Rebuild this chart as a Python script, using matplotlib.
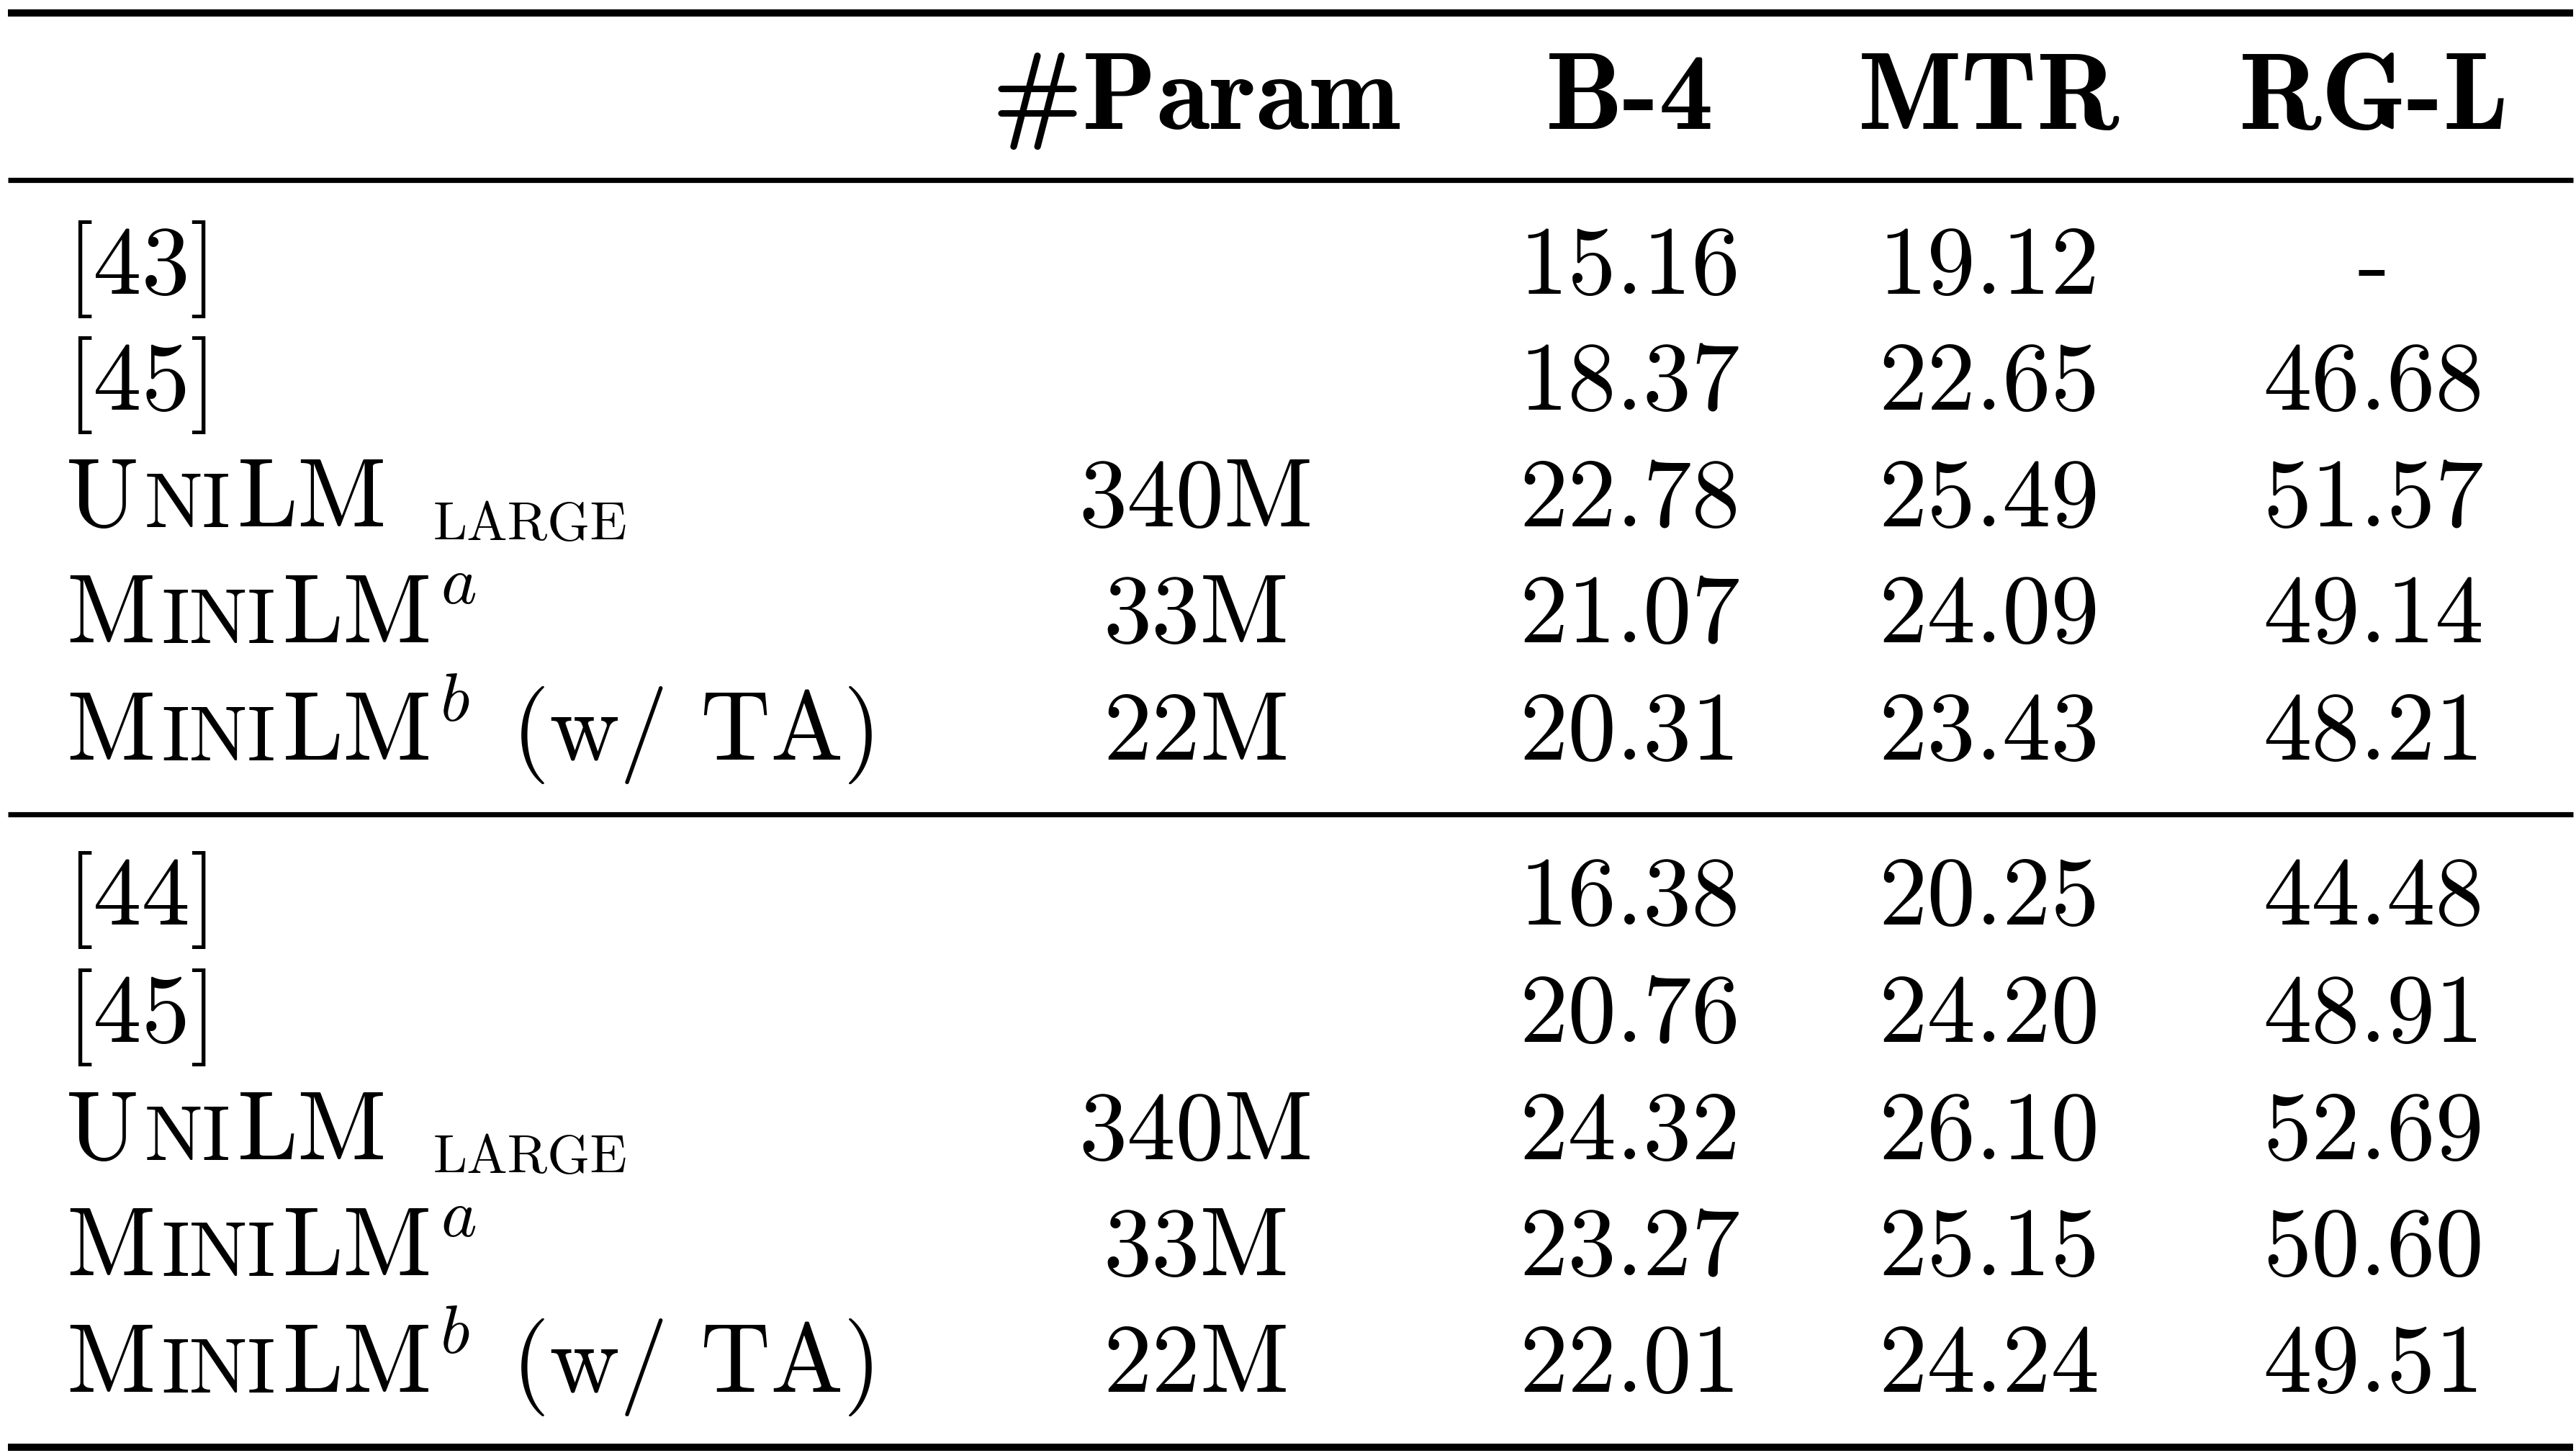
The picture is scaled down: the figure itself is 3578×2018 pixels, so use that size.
import matplotlib
matplotlib.use('Agg')
import matplotlib.pyplot as plt

# table content
header = ['#Param', 'B-4', 'MTR', 'RG-L']
params = ['', '', '340M', '33M', '22M', '', '', '340M', '33M', '22M']
b4 = [15.16, 18.37, 22.78, 21.07, 20.31, 16.38, 20.76, 24.32, 23.27, 22.01]
mtr = [19.12, 22.65, 25.49, 24.09, 23.43, 20.25, 24.20, 26.10, 25.15, 24.24]
rgl = [None, 46.68, 51.57, 49.14, 48.21, 44.48, 48.91, 52.69, 50.60, 49.51]
models = ['[43]', '[45]', 'unilm_large', 'minilm_a', 'minilm_b_ta',
          '[44]', '[45]', 'unilm_large', 'minilm_a', 'minilm_b_ta']

W, H = 3578, 2018
FS = 97
FS_HEAD = 109
RM = 'cmr10'
BF = 'cmb10'
MI = 'cmmi10'

col_x = [1661, 2264, 2763, 3297]
label_x = 92
head_y = 179
row_y = [408, 569, 731, 892, 1055, 1284, 1447, 1610, 1771, 1933]

fig = plt.figure(figsize=(W / 100, H / 100), dpi=100)
ax = fig.add_axes([0, 0, 1, 1])
ax.set_xlim(0, W)
ax.set_ylim(H, 0)
ax.axis('off')
renderer = fig.canvas.get_renderer()

# rules
ax.hlines([18, 2010], 11, 3574, color='black', lw=7.2)
ax.hlines([250, 1131], 11, 3574, color='black', lw=5.2)

for txt, x in zip(header, col_x):
    ax.text(x, head_y, txt, family=BF, size=FS_HEAD, ha='center', va='baseline')


def pieces_for(name):
    sc = 0.8
    if name == 'unilm_large':
        return [('U', RM, 1, 0, 0), ('NI', RM, sc, 0, 8), ('LM', RM, 1, 0, 9),
                ('LARGE', RM, 0.56, -19, 64)]
    if name == 'minilm_a':
        return [('M', RM, 1, 0, 0), ('INI', RM, sc, 0, 9), ('LM', RM, 1, 0, 10),
                ('a', MI, 0.7, 54, 12)]
    if name == 'minilm_b_ta':
        return [('M', RM, 1, 0, 0), ('INI', RM, sc, 0, 9), ('LM', RM, 1, 0, 10),
                ('b', MI, 0.7, 54, 12), ('(w/ TA)', RM, 1, 0, 58)]
    return [(name, RM, 1, 0, 0)]


def draw_label(x, y, name):
    for txt, fam, scale, rise, gap in pieces_for(name):
        x += gap
        t = ax.text(x, y - rise, txt, family=fam, size=FS * scale,
                    ha='left', va='baseline')
        x += t.get_window_extent(renderer).width


for i, y in enumerate(row_y):
    draw_label(label_x, y, models[i])
    if params[i]:
        ax.text(col_x[0], y, params[i], family=RM, size=FS, ha='center', va='baseline')
    ax.text(col_x[1], y, f'{b4[i]:.2f}', family=RM, size=FS, ha='center', va='baseline')
    ax.text(col_x[2], y, f'{mtr[i]:.2f}', family=RM, size=FS, ha='center', va='baseline')
    val = '-' if rgl[i] is None else f'{rgl[i]:.2f}'
    ax.text(col_x[3], y, val, family=RM, size=FS, ha='center', va='baseline')

fig.savefig('out.png', dpi=100, facecolor='white')
